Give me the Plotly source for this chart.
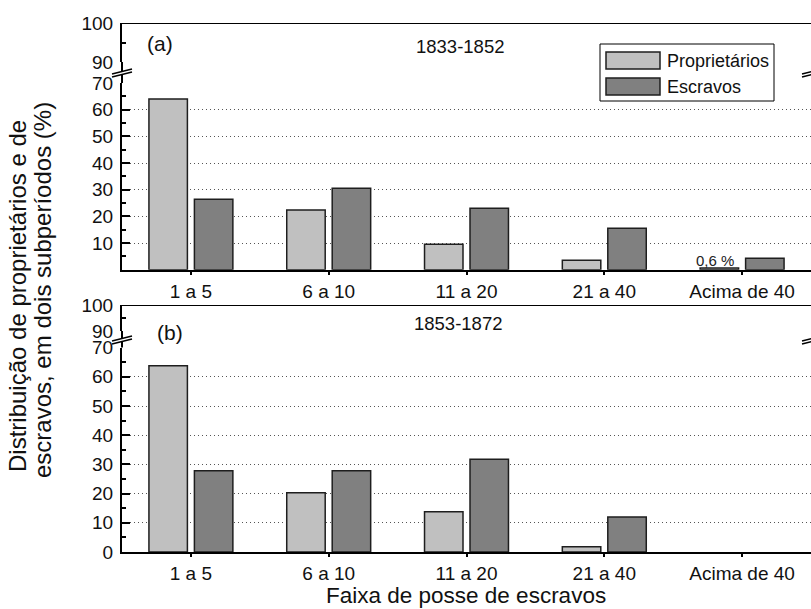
import plotly.graph_objects as go

W, H = 811, 609

# ---- data -------------------------------------------------------------
categories = ["1 a 5", "6 a 10", "11 a 20", "21 a 40", "Acima de 40"]
series_names = ["Proprietários", "Escravos"]
periods = ["1833-1852", "1853-1872"]
panel_tags = ["(a)", "(b)"]

proprietarios_a = [64.0, 22.4, 9.5, 3.5, 0.6]
escravos_a = [26.4, 30.5, 23.0, 15.5, 4.3]
proprietarios_b = [63.8, 20.3, 13.8, 1.8, None]
escravos_b = [27.8, 27.8, 31.8, 12.0, None]

low_ticks_a = [10, 20, 30, 40, 50, 60, 70]
low_ticks_b = [0, 10, 20, 30, 40, 50, 60, 70]
low_minor = [5, 15, 25, 35, 45, 55, 65]
high_ticks = [90, 100]
high_minor = [95]
small_value_label = "0,6 %"

x_title = "Faixa de posse de escravos"
y_title_lines = ["Distribuição de proprietários e de",
                 "escravos, em dois subperíodos (%)"]

# ---- styling ----------------------------------------------------------
FONT = "Liberation Sans, Arial, sans-serif"
LIGHT = "#c0c0c0"
DARK = "#808080"
EDGE = "#1e1e1e"
GRID = "#555555"


def fx(px):
    return px / W


def fy(py):
    return 1 - py / H


LEFT = 122
xdom = [fx(LEFT), 1.0]

# vertical layout of the broken axes (pixel rows)
panels = [
    dict(low=(269.7, 83.0), high=(62.0, 23.0), brk=73.0),
    dict(low=(552.0, 347.6), high=(331.0, 305.0), brk=340.0),
]

fig = go.Figure()

# bars
for xa, ya, prop, escr in [("x", "y", proprietarios_a, escravos_a),
                           ("x2", "y3", proprietarios_b, escravos_b)]:
    fig.add_trace(go.Bar(x=categories, y=prop, name=series_names[0],
                         marker=dict(color=LIGHT, line=dict(color=EDGE, width=1.5)),
                         xaxis=xa, yaxis=ya, showlegend=False))
    fig.add_trace(go.Bar(x=categories, y=escr, name=series_names[1],
                         marker=dict(color=DARK, line=dict(color=EDGE, width=1.5)),
                         xaxis=xa, yaxis=ya, showlegend=False))

# empty traces so the upper (90-100) segments get their own subplots
for xa, ya in [("x", "y2"), ("x2", "y4")]:
    fig.add_trace(go.Scatter(x=[], y=[], xaxis=xa, yaxis=ya,
                             showlegend=False, hoverinfo="skip"))


def xaxis_cfg(anchor):
    return dict(domain=xdom, anchor=anchor, type="category",
                range=[-0.5, len(categories) - 0.5],
                showline=True, linewidth=2, linecolor="black",
                ticks="outside", ticklen=3, tickwidth=1.5, tickcolor="black",
                tickfont=dict(size=19, color="#111", family=FONT),
                showgrid=False, zeroline=False, automargin=False, fixedrange=True)


def yaxis_cfg(anchor, dom, rng, ticks, minor):
    return dict(domain=[fy(dom[0]), fy(dom[1])], anchor=anchor, range=rng,
                tickmode="array", tickvals=ticks,
                ticks="inside", ticklen=8, tickwidth=2, tickcolor="black",
                ticklabelstandoff=3,
                tickfont=dict(size=19, color="#111", family=FONT),
                showline=True, linewidth=2, linecolor="black",
                showgrid=True, gridcolor=GRID, gridwidth=1, griddash="1px,3px",
                minor=dict(tickmode="array", tickvals=minor, ticks="inside",
                           ticklen=4, tickwidth=2, tickcolor="black", showgrid=False),
                zeroline=False, automargin=False, fixedrange=True)


fig.update_layout(
    xaxis=xaxis_cfg("y"),
    xaxis2=xaxis_cfg("y3"),
    yaxis=yaxis_cfg("x", panels[0]["low"], [0, 70], low_ticks_a, low_minor),
    yaxis2=yaxis_cfg("x", panels[0]["high"], [90, 100], high_ticks, high_minor),
    yaxis3=yaxis_cfg("x2", panels[1]["low"], [0, 70], low_ticks_b, low_minor),
    yaxis4=yaxis_cfg("x2", panels[1]["high"], [90, 100], high_ticks, high_minor),
)

shapes = []
annotations = []

for i, p in enumerate(panels):
    high_ref = "y2" if i == 0 else "y4"
    # top frame line at 100
    shapes.append(dict(type="line", xref="paper", yref=high_ref,
                       x0=fx(LEFT), x1=1.0, y0=100, y1=100,
                       line=dict(color="black", width=2)))
    # spine through the gap between the two segments
    shapes.append(dict(type="line", xref="paper", yref="paper",
                       x0=fx(LEFT), x1=fx(LEFT), y0=fy(p["low"][1]), y1=fy(p["high"][0]),
                       line=dict(color="black", width=2)))
    # break marks on left and right sides
    yc = p["brk"]
    for xc in (LEFT, 812):
        a = (xc - 10, yc + 1)
        b = (xc + 10, yc - 4)
        c = (xc + 10, yc - 1)
        d = (xc - 10, yc + 4)
        path = "M {} {} L {} {} L {} {} L {} {} Z".format(
            fx(a[0]), fy(a[1]), fx(b[0]), fy(b[1]),
            fx(c[0]), fy(c[1]), fx(d[0]), fy(d[1]))
        shapes.append(dict(type="path", xref="paper", yref="paper", path=path,
                           fillcolor="white", line=dict(width=0)))
        for s, e in [(a, b), (d, c)]:
            shapes.append(dict(type="line", xref="paper", yref="paper",
                               x0=fx(s[0]), y0=fy(s[1]), x1=fx(e[0]), y1=fy(e[1]),
                               line=dict(color="black", width=1.5)))

# legend box
shapes.append(dict(type="rect", xref="paper", yref="paper",
                   x0=fx(600), x1=fx(774), y0=fy(101), y1=fy(44),
                   fillcolor="white", line=dict(color="black", width=1)))
for (top, bot), col, name in [((52, 69), LIGHT, series_names[0]),
                              ((78, 95), DARK, series_names[1])]:
    shapes.append(dict(type="rect", xref="paper", yref="paper",
                       x0=fx(606), x1=fx(660), y0=fy(bot), y1=fy(top),
                       fillcolor=col, line=dict(color=EDGE, width=1.5)))
    annotations.append(dict(text=name, xref="paper", yref="paper",
                            x=fx(665), y=fy((top + bot) / 2),
                            xanchor="left", yanchor="middle", showarrow=False,
                            font=dict(size=18, color="#111", family=FONT)))

# panel tags and period labels
for tag, (tx, ty) in zip(panel_tags, [(160, 43), (170, 332)]):
    annotations.append(dict(text=tag, xref="paper", yref="paper",
                            x=fx(tx), y=fy(ty), xanchor="center", yanchor="middle",
                            showarrow=False, font=dict(size=21, color="#111", family=FONT)))
for per, (tx, ty) in zip(periods, [(460, 46), (458, 323)]):
    annotations.append(dict(text=per, xref="paper", yref="paper",
                            x=fx(tx), y=fy(ty), xanchor="center", yanchor="middle",
                            showarrow=False, font=dict(size=18.5, color="#111", family=FONT)))

# value label over the smallest bar
annotations.append(dict(text=small_value_label, xref="x", yref="y",
                        x=categories[-1], y=proprietarios_a[-1],
                        xanchor="center", yanchor="bottom", xshift=-27, yshift=-3,
                        showarrow=False, font=dict(size=15, color="#222", family=FONT)))

# axis titles
annotations.append(dict(text=x_title, xref="paper", yref="paper",
                        x=fx(466), y=fy(595), xanchor="center", yanchor="middle",
                        showarrow=False, font=dict(size=22.5, color="#111", family=FONT)))
for line, tx, ty in zip(y_title_lines, (17, 42), (296, 290)):
    annotations.append(dict(text=line, xref="paper", yref="paper",
                            x=fx(tx), y=fy(ty), xanchor="center", yanchor="middle",
                            textangle=-90, showarrow=False,
                            font=dict(size=24, color="#111", family=FONT)))

fig.update_layout(
    width=W, height=H,
    margin=dict(l=0, r=0, t=0, b=0),
    paper_bgcolor="white", plot_bgcolor="white",
    font=dict(family=FONT, color="#111"),
    barmode="group", bargap=0.34, bargroupgap=0.154,
    showlegend=False,
    shapes=shapes, annotations=annotations,
)

fig.write_html("out.html")
